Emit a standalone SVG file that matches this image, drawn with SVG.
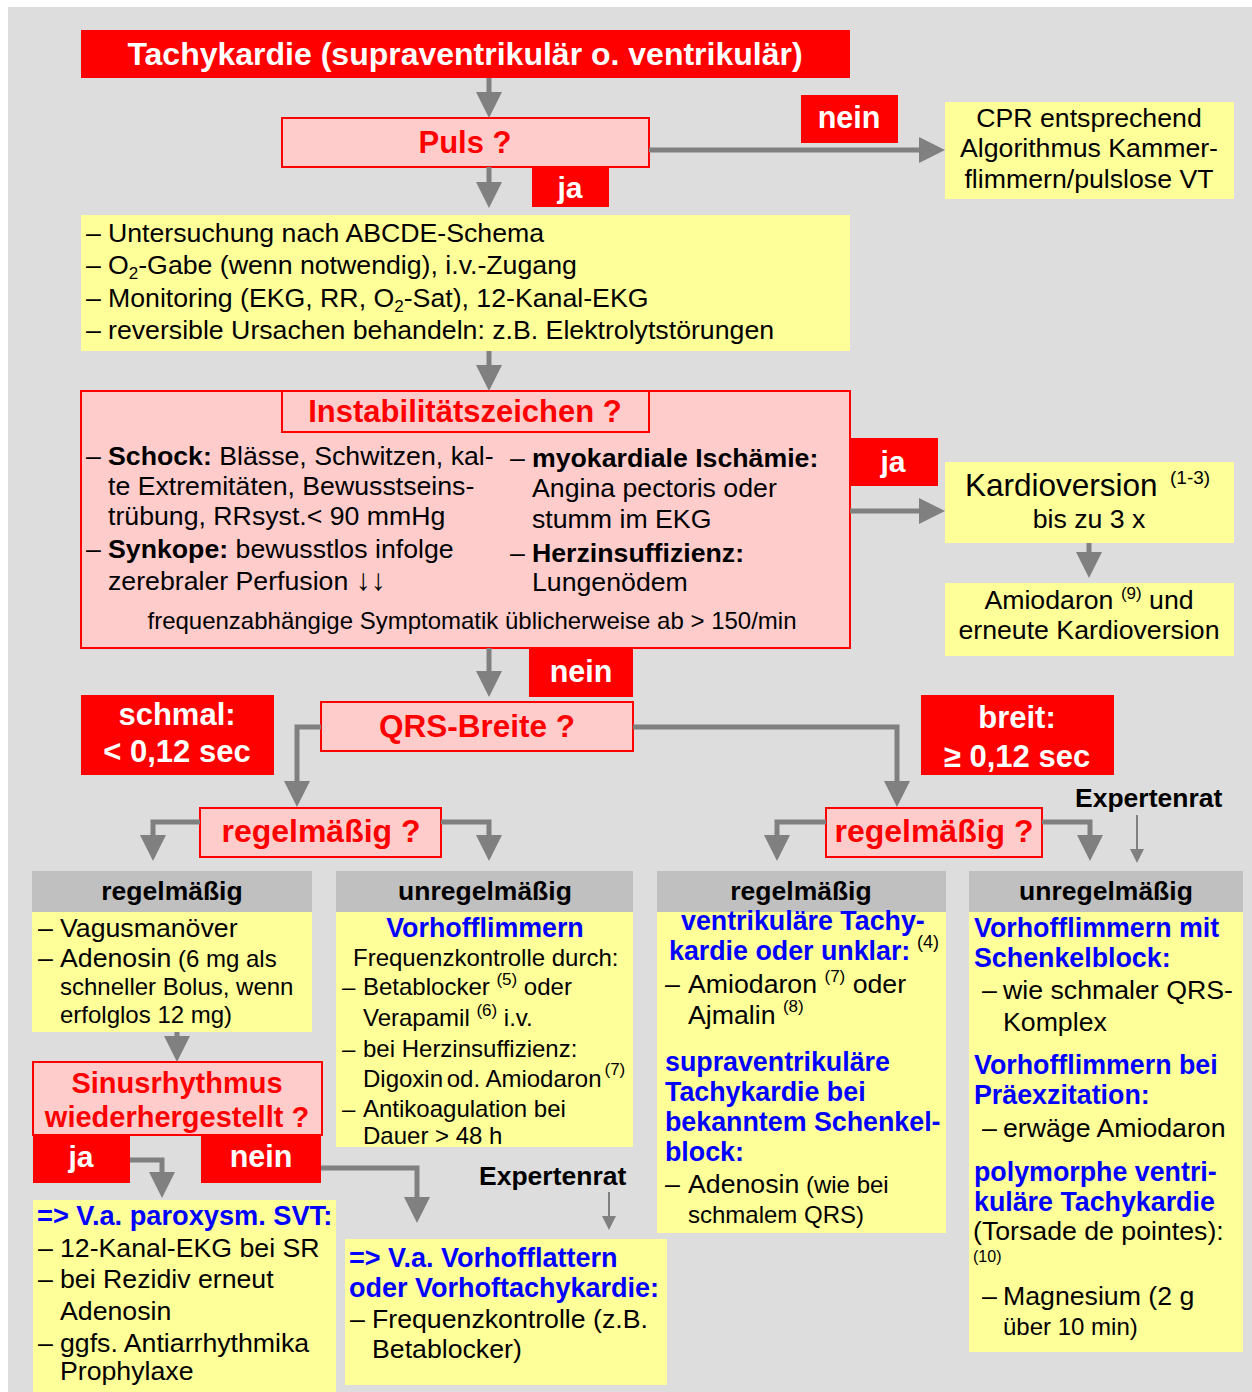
<svg xmlns="http://www.w3.org/2000/svg" width="1252" height="1392" viewBox="0 0 1252 1392">
<defs>
<style>
text{font-family:"Liberation Sans",Arial,Helvetica,sans-serif;fill:#000}
.bg{fill:#dddddd}
.red{fill:#ff0000}
.pink{fill:#ffcccc;stroke:#ff0000;stroke-width:2}
.yel{fill:#ffff99}
.hdr{fill:#c0c0c0}
.conn{fill:none;stroke:#808080;stroke-width:5;marker-end:url(#ah)}
.thin{fill:none;stroke:#808080;stroke-width:2;marker-end:url(#ahs)}
.lbl{font-weight:bold;fill:#fff;font-size:31px;text-anchor:middle}
.q{font-weight:bold;fill:#ff0000;font-size:31.5px;text-anchor:middle}
.t{font-size:26.7px}
.s{font-size:24px}
.b{font-weight:bold}
.blu{font-weight:bold;fill:#0000ff;font-size:26.8px}
.hd{font-weight:bold;font-size:26.5px;text-anchor:middle}
.sup{font-size:17px}
.mid{text-anchor:middle}
.exp{font-weight:bold;font-size:26.5px}
</style>
<marker id="ah" markerUnits="userSpaceOnUse" markerWidth="26" markerHeight="26" viewBox="0 0 26 26" refX="0" refY="13" orient="auto"><path d="M0,0L26,13L0,26z" fill="#808080"/></marker>
<marker id="ahs" markerUnits="userSpaceOnUse" markerWidth="14" markerHeight="14" viewBox="0 0 14 14" refX="0" refY="7" orient="auto"><path d="M0,0L14,7L0,14z" fill="#808080"/></marker>
</defs>

<!-- page background -->
<rect x="0" y="0" width="1252" height="1392" fill="#ffffff"/>
<rect class="bg" x="8" y="7" width="1244" height="1385"/>

<!-- start -->
<g id="title">
<rect class="red" x="81" y="30" width="769" height="48"/>
<text class="lbl" x="465" y="65" style="font-size:32px">Tachykardie (supraventrikulär o. ventrikulär)</text>
</g>

<g id="puls">
<rect class="pink" x="282" y="118" width="367" height="49"/>
<text class="q" x="465" y="153" style="font-size:31px">Puls ?</text>
</g>
<g id="puls-ja">
<rect class="red" x="532" y="167" width="77" height="40"/>
<text class="lbl" x="570" y="198" style="font-size:30px">ja</text>
</g>
<g id="puls-nein">
<rect class="red" x="801" y="95" width="97" height="48"/>
<text class="lbl" x="849" y="128" style="font-size:30.5px">nein</text>
</g>

<g id="cpr">
<rect class="yel" x="945" y="102" width="289" height="97"/>
<text class="t mid" x="1089" y="127">CPR entsprechend</text>
<text class="t mid" x="1089" y="157">Algorithmus Kammer-</text>
<text class="t mid" x="1089" y="188">flimmern/pulslose VT</text>
</g>

<g id="untersuchung">
<rect class="yel" x="81" y="215" width="769" height="136"/>
<text class="t" x="86" y="242">–</text><text class="t" x="108" y="242">Untersuchung nach ABCDE-Schema</text>
<text class="t" x="86" y="274">–</text><text class="t" x="108" y="274">O<tspan font-size="17" dy="5">2</tspan><tspan dy="-5">-Gabe (wenn notwendig), i.v.-Zugang</tspan></text>
<text class="t" x="86" y="307">–</text><text class="t" x="108" y="307">Monitoring (EKG, RR, O<tspan font-size="17" dy="5">2</tspan><tspan dy="-5">-Sat), 12-Kanal-EKG</tspan></text>
<text class="t" x="86" y="339">–</text><text class="t" x="108" y="339">reversible Ursachen behandeln: z.B. Elektrolytstörungen</text>
</g>

<g id="instabil">
<rect class="pink" x="81" y="391" width="769" height="257"/>
<rect class="pink" x="282" y="391" width="367" height="41"/>
<text class="q" x="465" y="422" style="font-size:31px">Instabilitätszeichen ?</text>
<text class="t" x="86" y="465">–</text><text class="t" x="108" y="465"><tspan class="b">Schock:</tspan> Blässe, Schwitzen, kal-</text>
<text class="t" x="108" y="495">te Extremitäten, Bewusstseins-</text>
<text class="t" x="108" y="525">trübung, RRsyst.&lt; 90 mmHg</text>
<text class="t" x="86" y="558">–</text><text class="t" x="108" y="558"><tspan class="b">Synkope:</tspan> bewusstlos infolge</text>
<text class="t" x="108" y="590">zerebraler Perfusion <tspan font-size="30">↓↓</tspan></text>
<text class="t" x="510" y="467">–</text><text class="t b" x="532" y="467">myokardiale Ischämie:</text>
<text class="t" x="532" y="497">Angina pectoris oder</text>
<text class="t" x="532" y="528">stumm im EKG</text>
<text class="t" x="510" y="562">–</text><text class="t b" x="532" y="562">Herzinsuffizienz:</text>
<text class="t" x="532" y="591">Lungenödem</text>
<text class="mid" x="472" y="629" font-size="24">frequenzabhängige Symptomatik üblicherweise ab &gt; 150/min</text>
</g>
<g id="instabil-ja">
<rect class="red" x="850" y="438" width="88" height="48"/>
<text class="lbl" x="893" y="472" style="font-size:30px">ja</text>
</g>
<g id="instabil-nein">
<rect class="red" x="529" y="648" width="104" height="49"/>
<text class="lbl" x="581" y="682" style="font-size:30.5px">nein</text>
</g>

<g id="kardioversion">
<rect class="yel" x="945" y="462" width="289" height="81"/>
<text x="965" y="496" font-size="31.5">Kardioversion</text>
<text x="1170" y="484" font-size="19">(1-3)</text>
<text class="t mid" x="1089" y="528">bis zu 3 x</text>
</g>
<g id="amiodaron">
<rect class="yel" x="945" y="583" width="289" height="73"/>
<text class="t mid" x="1089" y="609">Amiodaron <tspan class="sup" dy="-10">(9)</tspan><tspan dy="10"> und</tspan></text>
<text class="t mid" x="1089" y="639">erneute Kardioversion</text>
</g>

<g id="qrs">
<rect class="pink" x="321" y="702" width="312" height="49"/>
<text class="q" x="477" y="737">QRS-Breite ?</text>
</g>
<g id="schmal">
<rect class="red" x="81" y="695" width="193" height="80"/>
<text class="lbl" x="177" y="725">schmal:</text>
<text class="lbl" x="177" y="762">&lt; 0,12 sec</text>
</g>
<g id="breit">
<rect class="red" x="921" y="695" width="193" height="80"/>
<text class="lbl" x="1017" y="728">breit:</text>
<text class="lbl" x="1017" y="767">≥ 0,12 sec</text>
</g>

<g id="regel-schmal">
<rect class="pink" x="200" y="808" width="241" height="49"/>
<text class="q" x="321" y="842" style="font-size:32px">regelmäßig ?</text>
</g>
<g id="regel-breit">
<rect class="pink" x="826" y="808" width="216" height="49"/>
<text class="q" x="934" y="842" style="font-size:32px">regelmäßig ?</text>
</g>
<g id="expertenrat-breit">
<text class="exp" x="1075" y="807">Expertenrat</text>
</g>

<!-- narrow QRS, regular -->
<g id="schmal-regel">
<rect class="hdr" x="32" y="871" width="280" height="41"/>
<rect class="yel" x="32" y="912" width="280" height="120"/>
<text class="hd" x="172" y="900">regelmäßig</text>
<text class="t" x="38" y="937">–</text><text class="t" x="60" y="937">Vagusmanöver</text>
<text class="t" x="38" y="967">–</text><text class="t" x="60" y="967">Adenosin<tspan font-size="24"> (6 mg als</tspan></text>
<text class="s" x="60" y="995">schneller Bolus, wenn</text>
<text class="s" x="60" y="1023">erfolglos 12 mg)</text>
</g>

<!-- narrow QRS, irregular -->
<g id="schmal-unregel">
<rect class="hdr" x="336" y="871" width="297" height="41"/>
<rect class="yel" x="336" y="912" width="297" height="235"/>
<text class="hd" x="485" y="900">unregelmäßig</text>
<text class="blu mid" x="485" y="937">Vorhofflimmern</text>
<text class="s" x="353" y="966">Frequenzkontrolle durch:</text>
<text class="s" x="342" y="995">–</text><text class="s" x="363" y="995">Betablocker <tspan class="sup" dy="-10">(5)</tspan><tspan dy="10"> oder</tspan></text>
<text class="s" x="363" y="1026">Verapamil <tspan class="sup" dy="-10">(6)</tspan><tspan dy="10"> i.v.</tspan></text>
<text class="s" x="342" y="1057">–</text><text class="s" x="363" y="1057">bei Herzinsuffizienz:</text>
<text class="s" x="363" y="1087">Digoxin<tspan dx="-3"> od. Amiodaron</tspan><tspan class="sup" dx="3" dy="-12">(7)</tspan></text>
<text class="s" x="342" y="1117">–</text><text class="s" x="363" y="1117">Antikoagulation bei</text>
<text class="s" x="363" y="1144">Dauer &gt; 48 h</text>
</g>

<g id="sinus">
<rect class="pink" x="33" y="1062" width="289" height="73"/>
<text class="q" x="177" y="1093" style="font-size:29px">Sinusrhythmus</text>
<text class="q" x="177" y="1127" style="font-size:29px">wiederhergestellt ?</text>
</g>
<g id="sinus-ja">
<rect class="red" x="33" y="1135" width="97" height="48"/>
<text class="lbl" x="81" y="1167" style="font-size:30px">ja</text>
</g>
<g id="sinus-nein">
<rect class="red" x="201" y="1135" width="120" height="48"/>
<text class="lbl" x="261" y="1167" style="font-size:30.5px">nein</text>
</g>

<g id="svt">
<rect class="yel" x="33" y="1200" width="303" height="192"/>
<text class="blu" x="37" y="1225" style="font-size:27.2px">=&gt; V.a. paroxysm. SVT:</text>
<text class="t" x="38" y="1257">–</text><text class="t" x="60" y="1257">12-Kanal-EKG bei SR</text>
<text class="t" x="38" y="1288">–</text><text class="t" x="60" y="1288">bei Rezidiv erneut</text>
<text class="t" x="60" y="1320">Adenosin</text>
<text class="t" x="38" y="1352">–</text><text class="t" x="60" y="1352">ggfs. Antiarrhythmika</text>
<text class="t" x="60" y="1380">Prophylaxe</text>
</g>

<g id="expertenrat-schmal">
<text class="exp" x="479" y="1185">Expertenrat</text>
</g>

<g id="vorhofflattern">
<rect class="yel" x="345" y="1239" width="322" height="146"/>
<text class="blu" x="349" y="1267" style="font-size:27px">=&gt; V.a. Vorhofflattern</text>
<text class="blu" x="349" y="1297" style="font-size:27px">oder Vorhoftachykardie:</text>
<text class="t" x="350" y="1328">–</text><text class="t" x="372" y="1328">Frequenzkontrolle (z.B.</text>
<text class="t" x="372" y="1358">Betablocker)</text>
</g>

<!-- wide QRS, regular -->
<g id="breit-regel">
<rect class="hdr" x="657" y="871" width="289" height="41"/>
<rect class="yel" x="657" y="912" width="289" height="321"/>
<text class="hd" x="801" y="900">regelmäßig</text>
<text class="blu" x="681" y="930">ventrikuläre Tachy-</text>
<text class="blu" x="669" y="960">kardie oder unklar:</text>
<text x="917" y="948" font-size="18" fill="#0000ff">(4)</text>
<text class="t" x="665" y="993">–</text><text class="t" x="688" y="993">Amiodaron <tspan class="sup" dy="-11">(7)</tspan><tspan dy="11"> oder</tspan></text>
<text class="t" x="688" y="1024">Ajmalin <tspan class="sup" dy="-12">(8)</tspan></text>
<text class="blu" x="665" y="1071">supraventrikuläre</text>
<text class="blu" x="665" y="1101">Tachykardie bei</text>
<text class="blu" x="665" y="1131">bekanntem Schenkel-</text>
<text class="blu" x="665" y="1161">block:</text>
<text class="t" x="665" y="1193">–</text><text class="t" x="688" y="1193">Adenosin<tspan font-size="24"> (wie bei</tspan></text>
<text class="s" x="688" y="1223">schmalem QRS)</text>
</g>

<!-- wide QRS, irregular -->
<g id="breit-unregel">
<rect class="hdr" x="969" y="871" width="274" height="41"/>
<rect class="yel" x="969" y="912" width="274" height="440"/>
<text class="hd" x="1106" y="900">unregelmäßig</text>
<text class="blu" x="974" y="937">Vorhofflimmern mit</text>
<text class="blu" x="974" y="967">Schenkelblock:</text>
<text class="t" x="982" y="999">–</text><text class="t" x="1003" y="999">wie schmaler QRS-</text>
<text class="t" x="1003" y="1031">Komplex</text>
<text class="blu" x="974" y="1074">Vorhofflimmern bei</text>
<text class="blu" x="974" y="1104">Präexzitation:</text>
<text class="t" x="982" y="1137">–</text><text class="t" x="1003" y="1137">erwäge Amiodaron</text>
<text class="blu" x="974" y="1181">polymorphe ventri-</text>
<text class="blu" x="974" y="1211">kuläre Tachykardie</text>
<text class="t" x="973" y="1240">(Torsade de pointes):</text>
<text x="973" y="1262" font-size="16">(10)</text>
<text class="t" x="982" y="1305">–</text><text class="t" x="1003" y="1305">Magnesium (2 g</text>
<text class="s" x="1003" y="1335">über 10 min)</text>
</g>

<g id="connectors">
<path class="conn" d="M489,78V92"/>
<path class="conn" d="M489,167V182"/>
<path class="conn" d="M649,150H919"/>
<path class="conn" d="M489,351V365"/>
<path class="conn" d="M850,511H919"/>
<path class="conn" d="M1089,543V552"/>
<path class="conn" d="M489,648V671"/>
<path class="conn" d="M321,727H297V781"/>
<path class="conn" d="M633,727H897V781"/>
<path class="conn" d="M200,822H153V835"/>
<path class="conn" d="M441,822H489V835"/>
<path class="conn" d="M826,822H777V835"/>
<path class="conn" d="M1042,822H1090V835"/>
<path class="conn" d="M177,1032V1036"/>
<path class="conn" d="M130,1160H162V1172"/>
<path class="conn" d="M321,1168H417V1197"/>
<path class="thin" d="M1137,815V849"/>
<path class="thin" d="M609,1192V1216"/>
</g>
</svg>
